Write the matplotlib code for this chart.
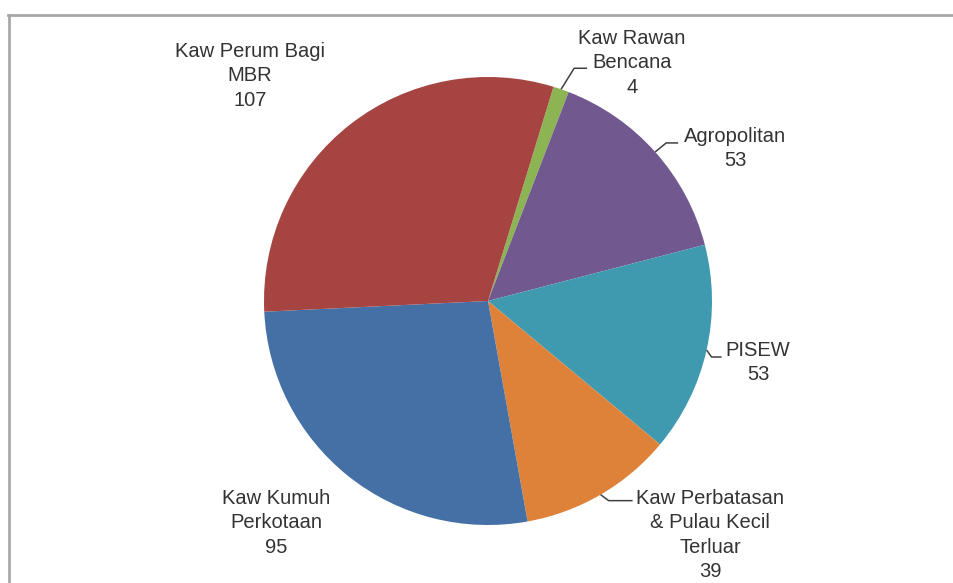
import numpy as np
import matplotlib
matplotlib.use("Agg")
import matplotlib.pyplot as plt
from matplotlib.lines import Line2D

plt.rcParams['font.family'] = ['Liberation Sans', 'DejaVu Sans']

# data kawasan (searah jarum jam mulai dari irisan hijau)
labels = ["Kaw Rawan\nBencana", "Agropolitan", "PISEW",
          "Kaw Perbatasan\n& Pulau Kecil\nTerluar", "Kaw Kumuh\nPerkotaan",
          "Kaw Perum Bagi\nMBR"]
values = [4, 53, 53, 39, 95, 107]
colors = ["#8cb453", "#71598f", "#3f9ab0", "#df8239", "#4570a6", "#a64442"]

W, H = 954, 583
fig = plt.figure(figsize=(W / 100, H / 100), dpi=100)
ax = fig.add_axes([0, 0, 1, 1])

cx, cy, r = 488, H - 301, 224
wedges, _ = ax.pie(values, colors=colors, startangle=73, counterclock=False,
                   center=(cx, cy), radius=r,
                   wedgeprops=dict(linewidth=0))
ax.set_xlim(0, W)
ax.set_ylim(0, H)
ax.set_aspect('equal')
ax.axis('off')

# posisi label: pusat baris pertama (x, y dari atas), garis penunjuk (dx, dy, panjang datar)
label_pos = {
    0: dict(xy=(632, 40), leader=(13, 21, 13)),
    1: dict(xy=(735, 138), leader=(11, 9, 12)),
    2: dict(xy=(758, 352), leader=(5, -7, 10)),
    3: dict(xy=(710, 500), leader=(8, -6, 24)),
    4: dict(xy=(276, 500), leader=None),
    5: dict(xy=(250, 53), leader=None),
}

txt_color = "#333333"
for i, w in enumerate(wedges):
    pos = label_pos[i]
    x, y = pos["xy"]
    ax.text(x, H - y + 11, f"{labels[i]}\n{values[i]}", ha="center", va="top",
            fontsize=14.5, color=txt_color, linespacing=1.36)
    if pos["leader"] is not None:
        ang = np.deg2rad((w.theta1 + w.theta2) / 2)
        px, py = cx + r * np.cos(ang), cy + r * np.sin(ang)
        ex, ey, hl = pos["leader"]
        ax.plot([px, px + ex, px + ex + hl], [py, py + ey, py + ey],
                color="#404040", lw=1.1, solid_capstyle="butt")

# bingkai abu-abu
fig.add_artist(Line2D([8 / W, 1], [1 - 15 / H, 1 - 15 / H], color="#a8a8a8",
                      lw=2, transform=fig.transFigure))
fig.add_artist(Line2D([9 / W, 9 / W], [0, 1 - 15 / H], color="#a8a8a8",
                      lw=2, transform=fig.transFigure))

fig.savefig("out.png", dpi=100, facecolor="white")
